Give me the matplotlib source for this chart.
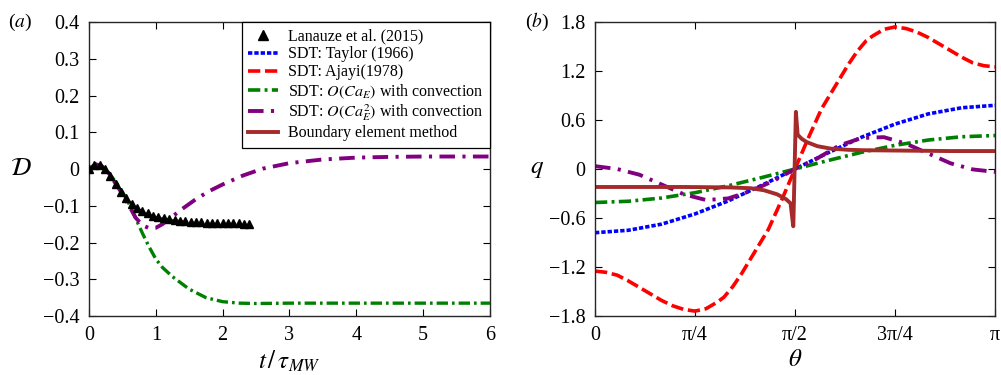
import matplotlib
matplotlib.use("Agg")
import matplotlib.pyplot as plt
import numpy as np

plt.rcParams['font.family'] = ['Liberation Serif', 'DejaVu Serif']
plt.rcParams['mathtext.fontset'] = 'stix'

# ---- panel (a): deformation vs time ----
t_exp = [0.00, 0.08, 0.16, 0.24, 0.32, 0.40, 0.48, 0.56, 0.64, 0.72, 0.80,
         0.88, 0.96, 1.04, 1.12, 1.20, 1.28, 1.36, 1.44, 1.52, 1.60, 1.68,
         1.76, 1.84, 1.92, 2.00, 2.08, 2.16, 2.24, 2.32, 2.40]
D_exp = [0.000, 0.012, 0.010, 0.000, -0.018, -0.040, -0.062, -0.080, -0.095,
         -0.106, -0.114, -0.121, -0.127, -0.131, -0.134, -0.137, -0.139,
         -0.141, -0.142, -0.143, -0.144, -0.145, -0.146, -0.146, -0.147,
         -0.147, -0.148, -0.148, -0.148, -0.149, -0.149]

t_bem = [0.0, 0.1, 0.2, 0.3, 0.4, 0.5, 0.6, 0.7, 0.8, 0.9, 1.0, 1.2, 1.4]
D_bem = [0.0, 0.014, 0.008, -0.012, -0.038, -0.065, -0.087, -0.104, -0.116,
         -0.125, -0.131, -0.138, -0.142]

t_o1 = [0.0, 0.1, 0.2, 0.3, 0.4, 0.5, 0.6, 0.7, 0.8, 0.9, 1.0, 1.1, 1.25,
        1.5, 1.75, 2.0, 2.25, 2.5, 3.0, 4.0, 5.0, 6.0]
D_o1 = [0.0, 0.013, 0.007, -0.012, -0.035, -0.062, -0.095, -0.135, -0.175,
        -0.212, -0.245, -0.268, -0.293, -0.327, -0.350, -0.361, -0.365,
        -0.366, -0.365, -0.365, -0.365, -0.365]

t_o2 = [0.0, 0.1, 0.2, 0.3, 0.4, 0.5, 0.6, 0.7, 0.8, 0.9, 1.0, 1.1, 1.2,
        1.4, 1.6, 1.8, 2.0, 2.3, 2.6, 3.0, 3.5, 4.0, 4.5, 5.0, 6.0]
D_o2 = [0.0, 0.013, 0.007, -0.012, -0.040, -0.068, -0.100, -0.133, -0.153,
        -0.161, -0.160, -0.150, -0.136, -0.108, -0.082, -0.060, -0.042,
        -0.018, 0.001, 0.016, 0.026, 0.031, 0.033, 0.034, 0.034]

# ---- panel (b): charge distribution vs polar angle (degrees) ----
th_taylor = [0, 15, 30, 45, 60, 75, 90, 105, 120, 135, 150, 165, 180]
q_taylor = [-0.78, -0.75, -0.675, -0.55, -0.39, -0.20, 0.0, 0.20, 0.39,
            0.55, 0.675, 0.75, 0.78]

th_ajayi = [0, 5, 10, 15, 20, 25, 30, 35, 40, 45, 50, 55, 58, 62, 66, 70, 74,
            78, 84, 90, 96, 102, 106, 110, 114, 118, 122, 125, 130, 135, 140,
            145, 150, 155, 160, 165, 170, 175, 180]
q_ajayi = [-1.25, -1.265, -1.30, -1.37, -1.45, -1.53, -1.61, -1.675, -1.72,
           -1.74, -1.71, -1.63, -1.57, -1.44, -1.28, -1.10, -0.92, -0.74,
           -0.38, 0.0, 0.38, 0.74, 0.92, 1.10, 1.28, 1.44, 1.57, 1.63, 1.71,
           1.74, 1.72, 1.675, 1.61, 1.53, 1.45, 1.37, 1.30, 1.265, 1.25]

th_o1 = [0, 15, 30, 45, 60, 75, 90, 105, 120, 135, 150, 165, 180]
q_o1 = [-0.41, -0.395, -0.355, -0.29, -0.205, -0.105, 0.0, 0.105, 0.205,
        0.29, 0.355, 0.395, 0.41]

th_o2 = [0, 10, 20, 30, 40, 50, 60, 70, 80, 90, 100, 110, 120, 130, 140,
         150, 160, 170, 180]
q_o2 = [0.035, 0.0, -0.07, -0.19, -0.31, -0.38, -0.36, -0.27, -0.15, 0.0,
        0.13, 0.29, 0.38, 0.39, 0.31, 0.19, 0.07, -0.005, -0.035]

th_bem = [0, 20, 40, 60, 70, 76, 82, 86, 88, 89.2, 89.25, 90.4, 91.2, 93,
          95.3, 100, 106, 114, 121, 140, 160, 180]
q_bem = [-0.22, -0.22, -0.22, -0.225, -0.235, -0.26, -0.31, -0.37, -0.42,
         -0.70, -0.70, 0.70, 0.42, 0.37, 0.33, 0.28, 0.25, 0.235, 0.23,
         0.225, 0.22, 0.22]

c_blue, c_red, c_green, c_purple, c_brown = '#0000ff', '#ff0000', '#008000', '#800080', '#a52a2a'
ls_blue = (0, (1.2, 0.55))
ls_red = (0, (3.4, 1.3))
ls_green = (0, (3.4, 1.2, 0.8, 1.2))
ls_purple = (0, (4.0, 1.9, 0.8, 1.9))

fig = plt.figure(figsize=(10.01, 3.75), dpi=100)
ax1 = fig.add_axes([0.0889, 0.1573, 0.4006, 0.784])
ax2 = fig.add_axes([0.5944, 0.1573, 0.3996, 0.784])

# panel a
ax1.plot(t_bem, D_bem, color=c_brown, lw=1.5, zorder=2)
ax1.plot(t_o1, D_o1, color=c_green, lw=2.4, ls=ls_green, zorder=3)
ax1.plot(t_o2, D_o2, color=c_purple, lw=2.8, ls=ls_purple, zorder=3)
ax1.plot(t_exp, D_exp, '^', color='k', ms=6, zorder=4)

# legend proxies
h = [ax1.plot([], [], '^', color='k', ms=7)[0],
     ax1.plot([], [], color=c_blue, lw=2.6, ls=ls_blue)[0],
     ax1.plot([], [], color=c_red, lw=2.6, ls=ls_red)[0],
     ax1.plot([], [], color=c_green, lw=2.6, ls=ls_green)[0],
     ax1.plot([], [], color=c_purple, lw=2.8, ls=ls_purple)[0],
     ax1.plot([], [], color=c_brown, lw=2.8)[0]]
labels = ['Lanauze et al. (2015)', 'SDT: Taylor (1966)', 'SDT: Ajayi(1978)',
          r'SDT: $O(Ca_E)$ with convection',
          r'SDT: $O(Ca_E^2)$ with convection', 'Boundary element method']
leg = ax1.legend(h, labels, loc='upper right', borderaxespad=0, fontsize=11.5,
                 handlelength=1.9, handletextpad=0.6, labelspacing=0.12,
                 borderpad=0.4, fancybox=False, framealpha=1, edgecolor='k')
leg.get_frame().set_linewidth(0.9)

ax1.set_xlim(0, 6)
ax1.set_ylim(-0.4, 0.4)
ax1.set_xticks(range(7))
ax1.set_yticks([0.4, 0.3, 0.2, 0.1, 0, -0.1, -0.2, -0.3, -0.4])
ax1.set_yticklabels(['0.4', '0.3', '0.2', '0.1', '0', '\u22120.1', '\u22120.2',
                     '\u22120.3', '\u22120.4'])
ax1.set_xlabel(r'$t\,/\,\tau_{MW}$', fontsize=18, labelpad=3)
ax1.set_ylabel(r'$\mathcal{D}$', fontsize=18, rotation=0, labelpad=16, va='center')
fig.text(0.008, 0.941, r'($a$)', fontsize=14, va='center', ha='left')

# panel b
ax2.plot(np.radians(th_taylor), q_taylor, color=c_blue, lw=2.6, ls=ls_blue)
ax2.plot(np.radians(th_ajayi), q_ajayi, color=c_red, lw=2.6, ls=ls_red)
ax2.plot(np.radians(th_o1), q_o1, color=c_green, lw=2.6, ls=ls_green)
ax2.plot(np.radians(th_o2), q_o2, color=c_purple, lw=2.8, ls=ls_purple)
ax2.plot(np.radians(th_bem), q_bem, color=c_brown, lw=2.8)

ax2.set_xlim(0, np.pi)
ax2.set_ylim(-1.8, 1.8)
ax2.set_xticks([0, np.pi / 4, np.pi / 2, 3 * np.pi / 4, np.pi])
ax2.set_xticklabels(['0', '\u03c0/4', '\u03c0/2', '3\u03c0/4', '\u03c0'])
ax2.set_yticks([1.8, 1.2, 0.6, 0, -0.6, -1.2, -1.8])
ax2.set_yticklabels(['1.8', '1.2', '0.6', '0', '\u22120.6', '\u22121.2', '\u22121.8'])
ax2.set_xlabel(r'$\theta$', fontsize=18, labelpad=3)
ax2.set_ylabel(r'$q$', fontsize=18, rotation=0, labelpad=8, va='center')
fig.text(0.524, 0.941, r'($b$)', fontsize=14, va='center', ha='left')

for ax in (ax1, ax2):
    ax.tick_params(direction='in', top=True, right=True, length=5, width=0.8,
                   labelsize=14.5, pad=7)
    for s in ax.spines.values():
        s.set_linewidth(1.0)
        s.set_color('0.15')

fig.savefig('out.png', dpi=100)
